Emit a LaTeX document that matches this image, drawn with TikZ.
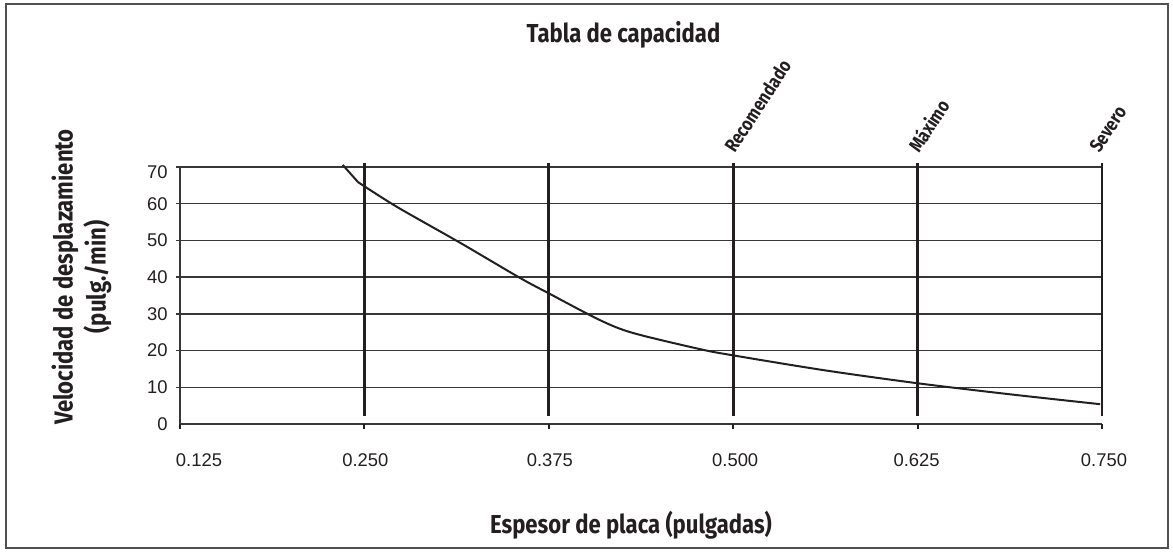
\documentclass[tikz,border=0pt]{standalone}
\usepackage{fontspec}
\setmainfont{Liberation Sans}
\newfontfamily\headfont[FakeStretch=0.85]{Fira Sans}
\usepackage{tikz}
\usetikzlibrary{positioning}
\definecolor{ink}{RGB}{35,31,32}
\definecolor{framegray}{RGB}{80,80,80}
\definecolor{gridgray}{RGB}{55,55,55}
\tikzset{
	head/.style={font=\headfont\bfseries\fontsize{13}{16.5}\selectfont, text=ink, inner sep=0pt},
	limitlab/.style={font=\headfont\bfseries\fontsize{9.5}{11}\selectfont, text=ink, rotate=57, anchor=south west, inner sep=0pt},
	ticklab/.style={font=\fontsize{9.2}{11}\selectfont, text=ink, inner sep=0pt}
}

\begin{document}
\begin{tikzpicture}[x=737.6pt,y=1.835pt]
\useasboundingbox (2.2pt,-64pt) rectangle (588.7pt,212pt);
\draw[framegray,line width=0.75pt] (5.2pt,-62pt) rectangle (586.2pt,210pt);

\foreach \v in {10,20,...,70}
	\draw[gridgray,line width=0.7pt] ([xshift=-2pt]0.125,\v) -- (0.75,\v);
\draw[gridgray,line width=0.7pt] (0.125,70) -- (0.125,0) -- (0.75,0);
\foreach \xv in {0.125,0.25,0.375,0.5,0.625,0.75}
	\draw[ink,line width=1pt] (\xv,0) -- ++(0,-2.5pt);
\foreach \xv in {0.25,0.375,0.5,0.625,0.75}
	\draw[ink,line width=1.4pt] (\xv,2.2) -- (\xv,71.2);

\foreach \v in {0,10,...,60}
	\node[ticklab,anchor=east] (yl\v) at ([xshift=-6pt]0.125,\v) {\v};
\node[ticklab,anchor=east] (yl70) at ([xshift=-6pt,yshift=-2.75pt]0.125,70) {70};
\foreach \xv/\xs [count=\k] in {0.125/9.5pt,0.250/0.5pt,0.375/0.5pt,0.500/1pt,0.625/-0.5pt,0.750/1pt}
	\node[ticklab,anchor=base] (xl\k) at ([xshift=\xs,yshift=-21pt]\xv,0) {\xv};

\node[limitlab] (rec) at ([xshift=1pt,yshift=4pt]0.5,71.2) {Recomendado};
\node[limitlab] (max) at ([xshift=1pt,yshift=4pt]0.625,71.2) {Máximo};
\node[limitlab] (sev) at ([xshift=-1pt,yshift=4pt]0.75,71.2) {Severo};

\node[head,anchor=base] (title) at (313.95pt,190.5pt) {Tabla de capacidad};
\node[head,anchor=base] (xtitle) at (317.7pt,-54.5pt) {Espesor de placa (pulgadas)};
\node[head,rotate=90,align=center] (ytitle) at (42.9pt,73.5pt) {Velocidad de desplazamiento\\(pulg./min)};

\draw[ink,line width=1pt] (0.2353,70.6) -- (0.2457,65.9) plot[smooth] coordinates {(0.2457,65.9) (0.2719,59.2) (0.3148,49.4) (0.3555,39.8) (0.375,35.6) (0.4097,28.3) (0.4321,24.8) (0.4775,20.4) (0.5,18.7) (0.5625,14.6) (0.625,11.1) (0.6875,8.1) (0.7487,5.4)};
\end{tikzpicture}
\end{document}
